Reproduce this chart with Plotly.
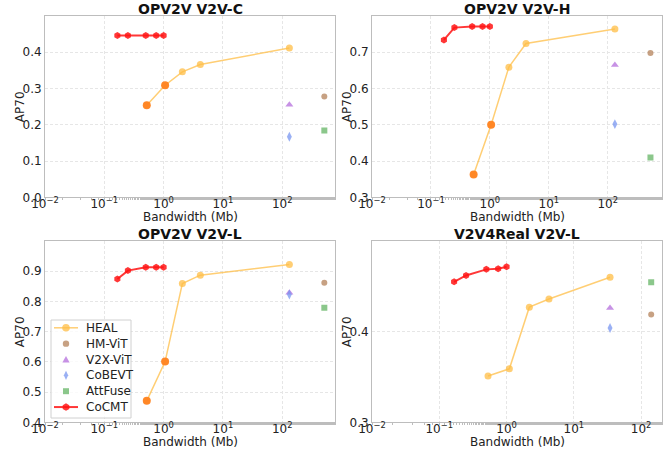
import plotly.graph_objects as go

titles = ["OPV2V V2V-C", "OPV2V V2V-H", "OPV2V V2V-L", "V2V4Real V2V-L"]
x_label = "Bandwidth (Mb)"
y_label = "AP70"

cocmt_x = [[0.166, 0.25, 0.5, 0.75, 1.0]] * 4
cocmt_y = [
    [0.446, 0.446, 0.446, 0.446, 0.446],
    [0.734, 0.768, 0.771, 0.771, 0.771],
    [0.874, 0.902, 0.913, 0.913, 0.913],
    [0.455, 0.462, 0.4687, 0.4694, 0.4716],
]
heal_x = [
    [0.52, 1.06, 2.07, 4.16, 132],
    [0.53, 1.05, 2.1, 4.1, 132],
    [0.52, 1.06, 2.07, 4.16, 132],
    [0.53, 1.1, 2.18, 4.27, 34.5],
]
heal_y = [
    [0.254, 0.309, 0.346, 0.366, 0.412],
    [0.363, 0.500, 0.659, 0.724, 0.764],
    [0.471, 0.601, 0.859, 0.887, 0.922],
    [0.351, 0.359, 0.427, 0.436, 0.460],
]
heal_highlight = [2, 2, 2, 0]
v2xvit_x = [132, 132, 132, 34.5]
v2xvit_y = [0.255, 0.665, 0.829, 0.426]
cobevt_x = [132, 132, 132, 34.5]
cobevt_y = [0.167, 0.502, 0.823, 0.404]
hmvit_x = [513, 530, 513, 141]
hmvit_y = [0.278, 0.698, 0.862, 0.419]
attfuse_x = [513, 530, 513, 141]
attfuse_y = [0.184, 0.41, 0.779, 0.4544]

legend_names = ["HEAL", "HM-ViT", "V2X-ViT", "CoBEVT", "AttFuse", "CoCMT"]

y_ranges = [[0, 0.5], [0.3, 0.8], [0.4, 1.0], [0.3, 0.5]]
y_ticks = [[0, 0.1, 0.2, 0.3, 0.4], [0.3, 0.4, 0.5, 0.6, 0.7],
           [0.4, 0.5, 0.6, 0.7, 0.8, 0.9], [0.3, 0.4]]
x_ranges = [[-2, 2.89], [-2, 2.92], [-2, 2.89], [-2, 2.31]]
x_tickvals = [0.01, 0.1, 1, 10, 100]
x_ticktext = ["10<sup>−2</sup>", "10<sup>−1</sup>", "10<sup>0</sup>", "10<sup>1</sup>", "10<sup>2</sup>"]

W, H = 668, 451
px_boxes = [(45, 335, 16, 197.3), (372, 662, 16, 197.3),
            (45, 335, 241, 422.3), (372, 662, 241, 422.3)]

C_HEAL = "rgba(255,190,70,0.75)"
C_HEAL_HI = "rgba(255,128,30,0.9)"
C_COCMT = "rgba(255,20,20,0.85)"
C_HM = "rgba(180,130,90,0.75)"
C_V2X = "rgba(180,110,220,0.75)"
C_COB = "rgba(120,150,240,0.75)"
C_ATT = "rgba(100,180,100,0.75)"
FONT = "DejaVu Sans"


def px(x):
    return x / W


def py(y):
    return 1 - y / H


fig = go.Figure()
layout = {}
annotations = []
shapes = []
for i in range(4):
    x0, x1, y0, y1 = px_boxes[i]
    sfx = "" if i == 0 else str(i + 1)
    xa, ya = "x" + sfx, "y" + sfx
    layout["xaxis" + sfx] = dict(
        domain=[px(x0), px(x1)], anchor=ya, type="log", range=x_ranges[i],
        tickvals=x_tickvals, ticktext=x_ticktext, automargin=False,
        showline=True, mirror=True, linecolor="#bdbdbd", linewidth=1,
        showgrid=True, gridcolor="#e6e6e6", griddash="3px,2px", gridwidth=1,
        ticks="outside", ticklen=2, tickcolor="#bdbdbd", ticklabelstandoff=-7,
        minor=dict(ticks="outside", ticklen=2, tickcolor="#bdbdbd", showgrid=False),
        zeroline=False, tickfont=dict(size=12, color="#222"),
    )
    layout["yaxis" + sfx] = dict(
        domain=[py(y1), py(y0)], anchor=xa, range=y_ranges[i],
        tickvals=y_ticks[i], ticktext=[f"{v:.1f}" for v in y_ticks[i]], automargin=False,
        showline=True, mirror=True, linecolor="#bdbdbd", linewidth=1,
        showgrid=True, gridcolor="#e6e6e6", griddash="3px,2px", gridwidth=1,
        ticks="", zeroline=False, tickfont=dict(size=12, color="#222"),
    )
    annotations.append(dict(
        text="<b>" + titles[i] + "</b>", xref="paper", yref="paper",
        x=px((x0 + x1) / 2), y=py(y0 - 7), xanchor="center", yanchor="middle",
        showarrow=False, font=dict(size=14, family=FONT, color="#111"),
    ))
    annotations.append(dict(
        text=x_label, xref="paper", yref="paper",
        x=px((x0 + x1) / 2), y=py(y1 + 20), xanchor="center", yanchor="middle",
        showarrow=False, font=dict(size=12, family=FONT, color="#222"),
    ))
    annotations.append(dict(
        text=y_label, xref="paper", yref="paper", textangle=-90,
        x=px(x0 - 25.5), y=py((y0 + y1) / 2), xanchor="center", yanchor="middle",
        showarrow=False, font=dict(size=12, family=FONT, color="#222"),
    ))
    fig.add_trace(go.Scatter(
        x=heal_x[i], y=heal_y[i], mode="lines+markers", name="HEAL",
        line=dict(color=C_HEAL, width=1.5),
        marker=dict(color=C_HEAL, size=7, symbol="circle"),
        xaxis=xa, yaxis=ya, showlegend=False))
    n = heal_highlight[i]
    if n:
        fig.add_trace(go.Scatter(
            x=heal_x[i][:n], y=heal_y[i][:n], mode="markers", name="HEAL",
            marker=dict(color=C_HEAL_HI, size=8, symbol="circle"),
            xaxis=xa, yaxis=ya, showlegend=False))
    fig.add_trace(go.Scatter(
        x=[hmvit_x[i]], y=[hmvit_y[i]], mode="markers", name="HM-ViT",
        marker=dict(color=C_HM, size=6, symbol="circle"),
        xaxis=xa, yaxis=ya, showlegend=False))
    fig.add_trace(go.Scatter(
        x=[v2xvit_x[i]], y=[v2xvit_y[i]], mode="markers", name="V2X-ViT",
        marker=dict(color=C_V2X, size=7, symbol="triangle-up"),
        xaxis=xa, yaxis=ya, showlegend=False))
    fig.add_trace(go.Scatter(
        x=[cobevt_x[i]], y=[cobevt_y[i]], mode="markers", name="CoBEVT",
        marker=dict(color=C_COB, size=7, symbol="diamond-tall"),
        xaxis=xa, yaxis=ya, showlegend=False))
    fig.add_trace(go.Scatter(
        x=[attfuse_x[i]], y=[attfuse_y[i]], mode="markers", name="AttFuse",
        marker=dict(color=C_ATT, size=6, symbol="square"),
        xaxis=xa, yaxis=ya, showlegend=False))
    fig.add_trace(go.Scatter(
        x=cocmt_x[i], y=cocmt_y[i], mode="lines+markers", name="CoCMT",
        line=dict(color=C_COCMT, width=2),
        marker=dict(color=C_COCMT, size=7, symbol="hexagon"),
        xaxis=xa, yaxis=ya, showlegend=False))

# ---- manual legend (layout decoration) inside the OPV2V V2V-L panel ----
LX0, LX1, LY0, LY1 = 51, 131, 320, 418
shapes.append(dict(type="rect", xref="paper", yref="paper",
                   x0=px(LX0), x1=px(LX1), y0=py(LY1), y1=py(LY0),
                   line=dict(color="#d0d0d0", width=1),
                   fillcolor="rgba(255,255,255,0.8)", layer="above"))
key_colors = [C_HEAL, C_HM, C_V2X, C_COB, C_ATT, C_COCMT]
key_kinds = ["circle", "circle", "tri", "diamond", "square", "hexagon"]
key_lines = [1.5, 0, 0, 0, 0, 2]
key_r = [3.8, 3.2, 3.6, 3.6, 3.0, 3.8]
for k, name in enumerate(legend_names):
    cy = 327.8 + 15.85 * k
    cx = 66
    col = key_colors[k]
    if key_lines[k]:
        shapes.append(dict(type="line", xref="paper", yref="paper",
                           x0=px(54), x1=px(78), y0=py(cy), y1=py(cy),
                           line=dict(color=col, width=key_lines[k]), layer="above"))
    r = key_r[k]
    kind = key_kinds[k]
    if kind == "circle":
        shapes.append(dict(type="circle", xref="paper", yref="paper",
                           x0=px(cx - r), x1=px(cx + r), y0=py(cy + r), y1=py(cy - r),
                           fillcolor=col, line=dict(width=0), layer="above"))
    else:
        if kind == "tri":
            pts = [(cx, cy - r), (cx + r, cy + r * 0.8), (cx - r, cy + r * 0.8)]
        elif kind == "diamond":
            pts = [(cx, cy - r * 1.3), (cx + r * 0.6, cy), (cx, cy + r * 1.3), (cx - r * 0.6, cy)]
        elif kind == "square":
            pts = [(cx - r, cy - r), (cx + r, cy - r), (cx + r, cy + r), (cx - r, cy + r)]
        else:
            pts = [(cx - r * 0.87, cy - r * 0.5), (cx, cy - r), (cx + r * 0.87, cy - r * 0.5),
                   (cx + r * 0.87, cy + r * 0.5), (cx, cy + r), (cx - r * 0.87, cy + r * 0.5)]
        path = "M " + " L ".join(f"{px(a):.5f},{py(b):.5f}" for a, b in pts) + " Z"
        shapes.append(dict(type="path", xref="paper", yref="paper", path=path,
                           fillcolor=col, line=dict(width=0), layer="above"))
    annotations.append(dict(
        text=name, xref="paper", yref="paper", x=px(84), y=py(cy),
        xanchor="left", yanchor="middle", showarrow=False,
        font=dict(size=12, family=FONT, color="#222")))

fig.update_layout(
    width=W, height=H, margin=dict(l=0, r=0, t=0, b=0, autoexpand=False),
    paper_bgcolor="white", plot_bgcolor="white",
    font=dict(family=FONT, size=12, color="#222"),
    annotations=annotations, shapes=shapes, showlegend=False,
    **layout,
)
fig.write_html("out.html", post_script="document.body.style.margin='0';",
               config={"displayModeBar": False})
